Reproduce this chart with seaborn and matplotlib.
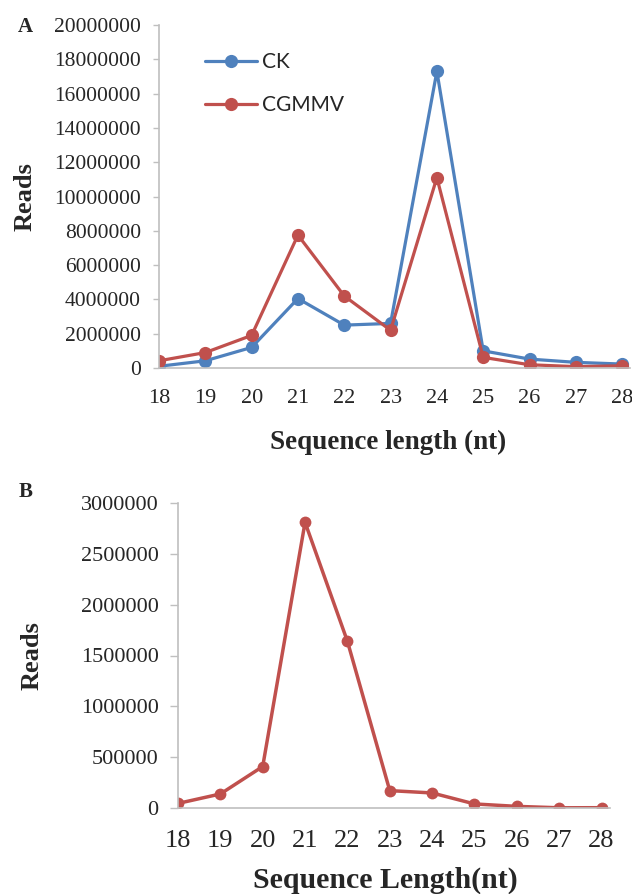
import numpy as np
import pandas as pd
import matplotlib
matplotlib.use("Agg")
import matplotlib.pyplot as plt
import seaborn as sns

# ---- data ----
lengths = [18, 19, 20, 21, 22, 23, 24, 25, 26, 27, 28]
ck_reads = [100000, 420000, 1200000, 4050000, 2500000, 2600000, 17300000, 1000000, 520000, 330000, 230000]
cgmmv_reads = [420000, 900000, 1900000, 7750000, 4200000, 2200000, 11100000, 620000, 190000, 80000, 130000]
b_reads = [45000, 138000, 408000, 2810000, 1640000, 171000, 148000, 40000, 16000, 2000, 3000]

series_names = ["CK", "CGMMV"]
yticks_a = [0, 2000000, 4000000, 6000000, 8000000, 10000000, 12000000, 14000000, 16000000, 18000000, 20000000]
yticks_b = [0, 500000, 1000000, 1500000, 2000000, 2500000, 3000000]

sns.set_theme(style="white")
plt.rcParams['font.family'] = ['Liberation Serif', 'DejaVu Serif']

BLUE = "#4F81BD"
RED = "#C0504D"
AXC = "#BFBFBF"

fig = plt.figure(figsize=(6.32, 8.94), dpi=100)

# ---------------- Panel A ----------------
axA = fig.add_axes([159/632, 1-368/894, (630-159)/632, (368-25)/894])
dfA = pd.DataFrame({
    "length": lengths * 2,
    "reads": ck_reads + cgmmv_reads,
    "series": [series_names[0]] * len(lengths) + [series_names[1]] * len(lengths),
})
sns.lineplot(data=dfA, x="length", y="reads", hue="series", hue_order=series_names,
             palette={"CK": BLUE, "CGMMV": RED}, marker="o", markersize=9.5,
             markeredgewidth=0, linewidth=2.3, ax=axA)
axA.set_xlim(18, 28.17)
axA.set_ylim(0, 20000000)
axA.set_xticks(lengths)
axA.set_xticklabels([str(v) for v in lengths])
axA.set_yticks(yticks_a)
axA.set_yticklabels([str(v) for v in yticks_a])
axA.tick_params(axis="x", length=0, pad=15, labelsize=16)
axA.tick_params(axis="y", length=4, width=1, color=AXC, pad=9, labelsize=15.5, direction="out", left=True)
for s in ["top", "right"]:
    axA.spines[s].set_visible(False)
for s in ["left", "bottom"]:
    axA.spines[s].set_color(AXC)
    axA.spines[s].set_linewidth(1.2)
axA.set_xlabel("Sequence length (nt)", fontsize=19.5, fontweight="bold")
axA.set_ylabel("Reads", fontsize=19, fontweight="bold")
axA.xaxis.set_label_coords(0.486, -0.216)
axA.xaxis.label.set_va("center")
axA.yaxis.set_label_coords(-0.285, 0.5)
axA.yaxis.label.set_va("center")
leg = axA.legend(loc="upper left", bbox_to_anchor=(0.098, 0.92), frameon=False,
                 prop={"family": ["Lato", "DejaVu Sans"], "size": 15},
                 handlelength=2.5, handletextpad=0.25, labelspacing=1.1, borderpad=0,
                 borderaxespad=0)
axA.grid(False)

# ---------------- Panel B ----------------
axB = fig.add_axes([178/632, 1-808/894, (610-178)/632, (808-503)/894])
dfB = pd.DataFrame({"length": lengths, "reads": b_reads})
sns.lineplot(data=dfB, x="length", y="reads", color=RED, marker="o", markersize=8.5,
             markeredgewidth=0, linewidth=2.5, ax=axB)
axB.set_xlim(18, 28.2)
axB.set_ylim(0, 3000000)
axB.set_xticks(lengths)
axB.set_xticklabels([str(v) for v in lengths])
axB.set_yticks(yticks_b)
axB.set_yticklabels([str(v) for v in yticks_b])
axB.tick_params(axis="x", length=0, pad=16, labelsize=19)
axB.tick_params(axis="y", length=6, width=1, color=AXC, pad=8, labelsize=16, direction="out", left=True)
for s in ["top", "right"]:
    axB.spines[s].set_visible(False)
for s in ["left", "bottom"]:
    axB.spines[s].set_color(AXC)
    axB.spines[s].set_linewidth(1.2)
axB.set_xlabel("Sequence Length(nt)", fontsize=21.5, fontweight="bold")
axB.set_ylabel("Reads", fontsize=19, fontweight="bold")
axB.xaxis.set_label_coords(0.48, -0.236)
axB.xaxis.label.set_va("center")
axB.yaxis.set_label_coords(-0.338, 0.5)
axB.yaxis.label.set_va("center")
axB.grid(False)

fig.text(25/632, 1-27/894, "A", fontsize=15, fontweight="bold", ha="center", va="center")
fig.text(26/632, 1-492/894, "B", fontsize=15, fontweight="bold", ha="center", va="center")

fig.savefig("out.png", dpi=100)
